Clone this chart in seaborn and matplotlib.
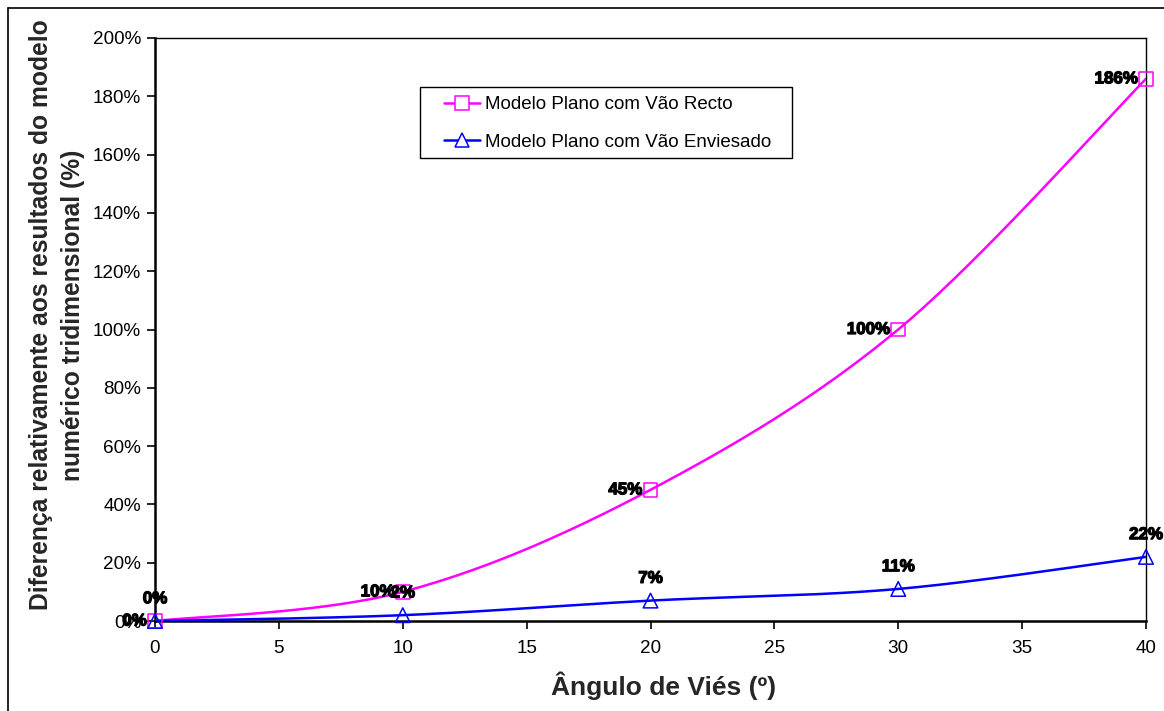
import numpy as np
import pandas as pd
import matplotlib
matplotlib.use("Agg")
import matplotlib.pyplot as plt
from matplotlib.lines import Line2D
from matplotlib.patches import Rectangle
from matplotlib.ticker import FuncFormatter
import matplotlib.patheffects as pe
import seaborn as sns

# Skew angle (degrees) and relative difference (%) against the 3D numerical model
angles = [0, 10, 20, 30, 40]
recto = [0, 10, 45, 100, 186]
enviesado = [0, 2, 7, 11, 22]
series_names = ["Modelo Plano com Vão Recto", "Modelo Plano com Vão Enviesado"]
x_ticks = [0, 5, 10, 15, 20, 25, 30, 35, 40]
y_ticks = [0, 20, 40, 60, 80, 100, 120, 140, 160, 180, 200]

MAGENTA = "#FF00FF"
BLUE = "#0000FF"
W, H = 1164, 711

sns.set_theme(style="white")
plt.rcParams["font.family"] = ["Liberation Sans", "DejaVu Sans"]


def smooth_curve(xs, ys, n=40):
    """Bezier smoothing of a polyline (control points from neighbouring points)."""
    p = np.column_stack([xs, ys]).astype(float)
    ext = np.vstack([p[0], p, p[-1]])
    out = []
    t = np.linspace(0, 1, n)[:, None]
    for i in range(len(p) - 1):
        p0, p1 = ext[i + 1], ext[i + 2]
        c1 = p0 + (ext[i + 2] - ext[i]) / 6.0
        c2 = p1 - (ext[i + 3] - ext[i + 1]) / 6.0
        seg = ((1 - t) ** 3) * p0 + 3 * ((1 - t) ** 2) * t * c1 + 3 * (1 - t) * t ** 2 * c2 + t ** 3 * p1
        out.append(seg if i == 0 else seg[1:])
    arr = np.vstack(out)
    return arr[:, 0], arr[:, 1]


fig = plt.figure(figsize=(W / 100, H / 100), dpi=100)
ax = fig.add_axes([155 / W, 1 - 621 / H, (1146 - 155) / W, (621 - 38) / H])

styles = [(recto, MAGENTA, "s", 95), (enviesado, BLUE, "^", 110)]
for vals, color, marker, size in styles:
    sx, sy = smooth_curve(angles, vals)
    curve = pd.DataFrame({"x": sx, "y": sy})
    sns.lineplot(data=curve, x="x", y="y", sort=False, color=color, linewidth=1.8,
                 ax=ax, zorder=3)
    pts = pd.DataFrame({"x": angles, "y": vals})
    sns.scatterplot(data=pts, x="x", y="y", marker=marker, s=size, facecolor="none",
                    edgecolor=color, linewidth=1.1, ax=ax, zorder=4, clip_on=False)

# value labels: left of the point for the straight span, above it for the skewed span
label_kw = dict(fontsize=12.2, fontweight="bold", color="black", annotation_clip=False,
                zorder=5, path_effects=[pe.withStroke(linewidth=0.9, foreground="black")])
for xv, yv in zip(angles, recto):
    ax.annotate(f"{yv}%", (xv, yv), xytext=(-6, 0), textcoords="offset points",
                ha="right", va="center", **label_kw)
for xv, yv in zip(angles, enviesado):
    ax.annotate(f"{yv}%", (xv, yv), xytext=(0, 16), textcoords="offset points",
                ha="center", va="center", **label_kw)

ax.set_xlim(0, 40)
ax.set_ylim(0, 200)
ax.set_xticks(x_ticks)
ax.set_yticks(y_ticks)
ax.yaxis.set_major_formatter(FuncFormatter(lambda v, _: f"{v:.0f}%"))
ax.tick_params(axis="both", which="major", direction="out", length=6, width=1.2,
               color="black", labelsize=13.6, labelcolor="black", pad=4,
               bottom=True, left=True)
ax.tick_params(axis="x", pad=8)
ax.set_xlabel("")
ax.set_ylabel("")

for side in ["left", "bottom"]:
    ax.spines[side].set_linewidth(1.8)
    ax.spines[side].set_color("black")
for side in ["top", "right"]:
    ax.spines[side].set_linewidth(1.0)
    ax.spines[side].set_color("black")
    ax.spines[side].set_visible(True)

fig.text(664 / W, 1 - 686 / H, "Ângulo de Viés (º)", ha="center", va="center",
         fontsize=19, fontweight="bold")
fig.text(57 / W, 1 - 315 / H,
         "Diferença relativamente aos resultados do modelo\nnumérico tridimensional (%)",
         ha="center", va="center", rotation=90, fontsize=17.7, fontweight="bold",
         multialignment="center", linespacing=1.4)

# legend: frame drawn as its own box, entries placed inside it
fig.add_artist(Rectangle((420 / W, 1 - 158 / H), (792 - 420) / W, (158 - 87) / H,
                         transform=fig.transFigure, facecolor="white",
                         edgecolor="black", linewidth=1.0, zorder=6))
handles = [
    Line2D([], [], color=MAGENTA, lw=1.8, marker="s", markersize=9.5,
           markerfacecolor="white", markeredgecolor=MAGENTA, markeredgewidth=1.1),
    Line2D([], [], color=BLUE, lw=1.8, marker="^", markersize=10,
           markerfacecolor="white", markeredgecolor=BLUE, markeredgewidth=1.1),
]
leg = fig.legend(handles, series_names, loc="center left",
                 bbox_to_anchor=(444 / W, 1 - 123.5 / H), fontsize=13.5,
                 frameon=False, handlelength=1.93, handletextpad=0.27,
                 labelspacing=1.08, borderpad=0, borderaxespad=0)
leg.set_zorder(7)
for txt in leg.get_texts():
    txt.set_color("black")

# outer chart frame (top and left edges)
fig.add_artist(Line2D([8 / W, 8 / W], [0, 1 - 8 / H], transform=fig.transFigure,
                      color="black", lw=1.2))
fig.add_artist(Line2D([8 / W, 1], [1 - 8 / H, 1 - 8 / H], transform=fig.transFigure,
                      color="black", lw=1.2))

fig.savefig("out.png", dpi=100, facecolor="white")
